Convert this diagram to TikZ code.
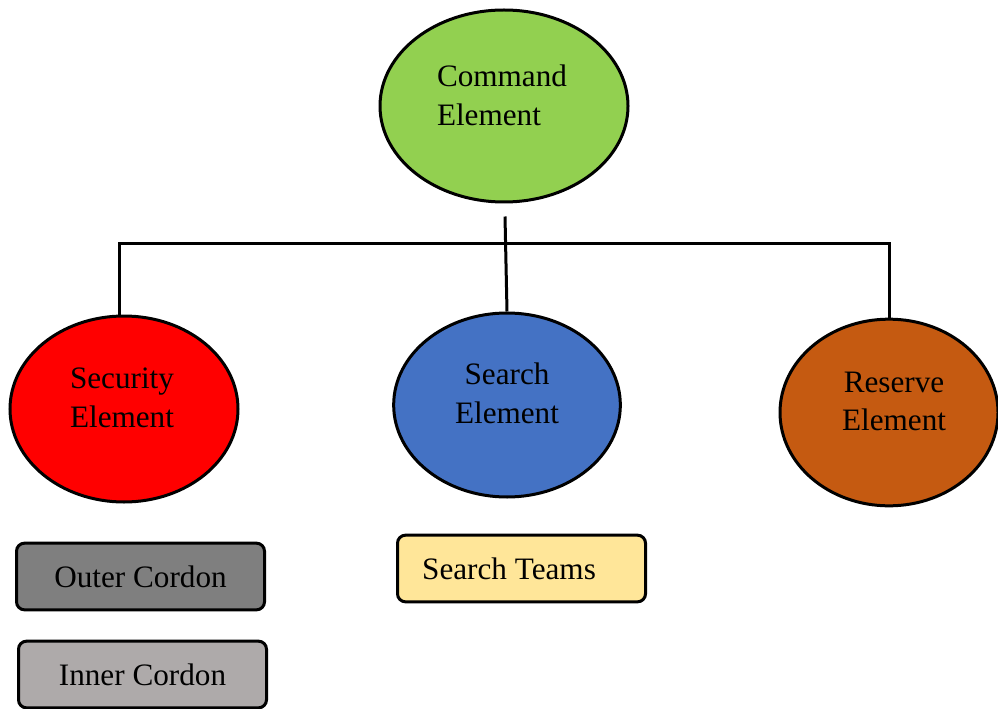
\documentclass[tikz,border=0pt]{standalone}
\usepackage{fontspec}
\setmainfont{Liberation Serif}
\usetikzlibrary{shapes.geometric,calc}
\definecolor{cmdgreen}{HTML}{92D050}
\definecolor{secred}{HTML}{FF0000}
\definecolor{srchblue}{HTML}{4472C4}
\definecolor{resorange}{HTML}{C55A11}
\definecolor{outergray}{HTML}{7F7F7F}
\definecolor{innergray}{HTML}{AEAAAA}
\definecolor{teamyellow}{HTML}{FFE699}
\begin{document}
\begin{tikzpicture}[x=0.75pt,y=-0.75pt,
  elem/.style={ellipse, draw=black, line width=2.25pt, inner sep=0pt},
  lbl/.style={font=\fontsize{23.4}{29}\selectfont, align=center, inner sep=0pt},
  box/.style={rectangle, rounded corners=6pt, draw=black, line width=2.25pt,
    minimum width=186pt, minimum height=50pt, inner sep=0pt,
    font=\fontsize{23.4}{29}\selectfont},
  link/.style={draw=black, line width=2.25pt}]
\useasboundingbox (0,0) rectangle (998,709);
% ellipses
\node[elem, fill=cmdgreen, minimum width=186pt, minimum height=144pt] (cmd) at (504,106) {};
\node[lbl, align=left] (cmdt) at (502,95.5) {Command\\Element};
\node[elem, fill=secred, minimum width=171pt, minimum height=139.5pt] (sec) at (124,409) {};
\node[lbl] (sect) at (122,397.5) {Security\\Element};
\node[elem, fill=srchblue, minimum width=170pt, minimum height=138pt] (srch) at (507,405) {};
\node[lbl] (srcht) at (507,393.5) {Search\\Element};
\node[elem, fill=resorange, minimum width=163.5pt, minimum height=140pt] (res) at (889,412.5) {};
\node[lbl] (rest) at (894,401.5) {Reserve\\Element};
% boxes
\node[box, fill=outergray] (outer) at (140.5,576.5) {Outer Cordon};
\node[box, fill=innergray] (inner) at (142.5,674.5) {Inner Cordon};
\node[box, fill=teamyellow] (teams) at (521.5,568.5) {Search Teams\kern18.75pt};
% connectors
\coordinate (top) at ($(cmd.south)+(1,13)$);
\coordinate (bar) at (0,243);
\coordinate (secin) at ($(sec.north)+(-5,0)$);
\draw[link] (top) -- (srch.north);
\draw[link] (secin) -- (secin |- bar) -- (res.north |- bar) -- (res.north);
\end{tikzpicture}
\end{document}
